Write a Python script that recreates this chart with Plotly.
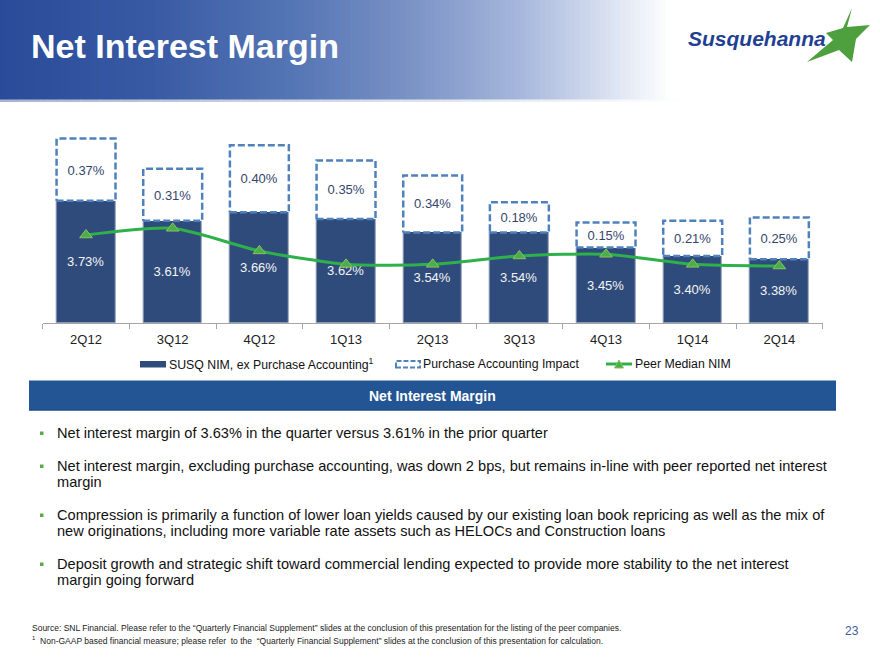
import plotly.graph_objects as go

# ---------------- data ----------------
quarters = ["2Q12", "3Q12", "4Q12", "1Q13", "2Q13", "3Q13", "4Q13", "1Q14", "2Q14"]
susq_nim = [3.73, 3.61, 3.66, 3.62, 3.54, 3.54, 3.45, 3.40, 3.38]
purchase_acct = [0.37, 0.31, 0.40, 0.35, 0.34, 0.18, 0.15, 0.21, 0.25]
peer_median = [3.525, 3.565, 3.43, 3.35, 3.35, 3.40, 3.41, 3.35, 3.34]

legend_labels = ["SUSQ NIM, ex Purchase Accounting<sup>1</sup>", "Purchase Accounting Impact", "Peer Median NIM"]
bullets = [
    ["Net interest margin of 3.63% in the quarter versus 3.61% in the prior quarter"],
    ["Net interest margin, excluding purchase accounting, was down 2 bps, but remains in-line with peer reported net interest",
     "margin"],
    ["Compression is primarily a function of lower loan yields caused by our existing loan book repricing as well as the mix of",
     "new originations, including more variable rate assets such as HELOCs and Construction loans"],
    ["Deposit growth and strategic shift toward commercial lending expected to provide more stability to the net interest",
     "margin going forward"],
]
footnotes = [
    "Source: SNL Financial. Please refer to the \u201cQuarterly Financial Supplement\u201d slides at the conclusion of this presentation for the listing of the peer companies.",
    "<sup>1</sup>  Non-GAAP based financial measure; please refer  to the  \u201cQuarterly Financial Supplement\u201d slides at the conclusion of this presentation for calculation.",
]

W, H = 880, 660
FONT = "Liberation Sans, Arial, sans-serif"
NAVY = "#2f4b7b"
DASH_BLUE = "#4f81bd"
GREEN = "#2eb04b"

AXIS_MIN = 3.0
AXIS_MAX = 4.211
BAR_W = 0.68
xs = list(range(len(quarters)))


def px(x):
    return x / W


def py(y):
    return 1 - y / H


fig = go.Figure()

# dark bars (SUSQ NIM ex PA)
fig.add_trace(go.Bar(
    x=xs, y=[v - AXIS_MIN for v in susq_nim], base=AXIS_MIN, width=BAR_W,
    customdata=susq_nim, texttemplate="%{customdata:.2f}%",
    textposition="inside", insidetextanchor="middle", textangle=0,
    insidetextfont=dict(color="#f4f4f4", size=13, family=FONT),
    marker=dict(color=NAVY, line=dict(color="#8a9ab3", width=1)),
    showlegend=False, hoverinfo="skip",
))
# purchase accounting boxes (white fill)
fig.add_trace(go.Bar(
    x=xs, y=purchase_acct, base=susq_nim, width=BAR_W,
    texttemplate="%{y:.2f}%",
    textposition="inside", insidetextanchor="middle", textangle=0,
    insidetextfont=dict(color="#34466c", size=13, family=FONT),
    marker=dict(color="white", line=dict(width=0)),
    showlegend=False, hoverinfo="skip",
))
# dashed outlines
ox, oy = [], []
for i, s, p in zip(xs, susq_nim, purchase_acct):
    l, r = i - BAR_W / 2, i + BAR_W / 2
    ox += [l, r, r, l, l, None]
    oy += [s, s, s + p, s + p, s, None]
fig.add_trace(go.Scatter(
    x=ox, y=oy, mode="lines",
    line=dict(color=DASH_BLUE, width=2.5, dash="7px,3px"),
    showlegend=False, hoverinfo="skip",
))
# peer median line
fig.add_trace(go.Scatter(
    x=xs, y=peer_median, mode="lines+markers",
    line=dict(color=GREEN, width=3, shape="spline", smoothing=0.7),
    marker=dict(symbol="triangle-up", size=11, color="#4aae4a", line=dict(color="#8cc060", width=1)),
    showlegend=False, hoverinfo="skip",
))

fig.update_layout(
    width=W, height=H, autosize=False,
    margin=dict(l=0, r=0, t=0, b=0),
    paper_bgcolor="white", plot_bgcolor="rgba(0,0,0,0)",
    barmode="overlay", bargap=0,
    font=dict(family=FONT, color="#222222"),
    xaxis=dict(
        domain=[px(42.7), px(822.7)], range=[-0.5, len(quarters) - 0.5],
        tickmode="array", tickvals=xs, ticktext=quarters, ticks="",
        tickfont=dict(size=13, color="#222222", family=FONT),
        showline=True, linecolor="#a6a6a6", linewidth=1,
        showgrid=False, zeroline=False, fixedrange=True,
        minor=dict(tickmode="linear", tick0=-0.5, dtick=1, ticks="outside",
                   ticklen=5, tickcolor="#a6a6a6", tickwidth=1, showgrid=False),
        ticklabelstandoff=4,
    ),
    yaxis=dict(
        domain=[py(323), py(120)], range=[AXIS_MIN, AXIS_MAX],
        visible=False, fixedrange=True,
    ),
)

shapes = []
annotations = []

# header gradient banner
stops = [(0, (42, 75, 153)), (150, (56, 90, 164)), (300, (86, 118, 181)), (420, (126, 149, 199)),
         (520, (166, 183, 219)), (600, (212, 221, 239)), (670, (255, 255, 255))]


def col_at(x):
    for (x0, c0), (x1, c1) in zip(stops, stops[1:]):
        if x0 <= x <= x1:
            t = (x - x0) / (x1 - x0)
            return "rgb(%d,%d,%d)" % tuple(round(a + (b - a) * t) for a, b in zip(c0, c1))
    return "rgb(255,255,255)"


step = 5
for x0 in range(0, 680, step):
    shapes.append(dict(type="rect", xref="paper", yref="paper", x0=px(x0), x1=px(x0 + step + 0.5),
                       y0=py(100), y1=py(0), line=dict(width=0), fillcolor=col_at(x0 + step / 2), layer="below"))
# thin line under the banner
for x0 in range(0, 680, 20):
    t = x0 / 680
    c = tuple(round(a + (255 - a) * t) for a in (170, 182, 208))
    shapes.append(dict(type="rect", xref="paper", yref="paper", x0=px(x0), x1=px(x0 + 20.5),
                       y0=py(102), y1=py(99.5), line=dict(width=0),
                       fillcolor="rgb(%d,%d,%d)" % c, layer="below"))

annotations.append(dict(text="<b>Net Interest Margin</b>", x=px(29), y=py(46), xref="paper", yref="paper",
                        xanchor="left", yanchor="middle", showarrow=False,
                        font=dict(size=34, color="white", family=FONT)))
# logo
annotations.append(dict(text="<b><i>Susquehanna</i></b>", x=px(686), y=py(38), xref="paper", yref="paper",
                        xanchor="left", yanchor="middle", showarrow=False,
                        font=dict(size=21, color="#1f3f93", family=FONT)))
star = [(852, 8), (847, 27), (870, 25), (856, 39), (852, 62), (839, 50), (807, 62), (833, 40), (826, 33), (843, 28)]
path = "M " + " L ".join("%f,%f" % (px(x), py(y)) for x, y in star) + " Z"
shapes.append(dict(type="path", xref="paper", yref="paper", path=path, fillcolor="#4e9f3d",
                   line=dict(width=0)))

# custom legend
LEG_Y = 364
shapes.append(dict(type="rect", xref="paper", yref="paper", x0=px(140), x1=px(166), y0=py(367.5), y1=py(361),
                   fillcolor=NAVY, line=dict(width=0)))
shapes.append(dict(type="rect", xref="paper", yref="paper", x0=px(396), x1=px(420), y0=py(367.5), y1=py(361),
                   fillcolor="white", line=dict(color=DASH_BLUE, width=2, dash="5px,2px")))
shapes.append(dict(type="line", xref="paper", yref="paper", x0=px(606), x1=px(632), y0=py(LEG_Y), y1=py(LEG_Y),
                   line=dict(color=GREEN, width=3)))
tri = [(614.5, 368), (623.5, 368), (619, 360)]
shapes.append(dict(type="path", xref="paper", yref="paper",
                   path="M " + " L ".join("%f,%f" % (px(x), py(y)) for x, y in tri) + " Z",
                   fillcolor="#4aae4a", line=dict(color="#8cc060", width=1)))
for lx, lab in zip([166.5, 421, 633], legend_labels):
    annotations.append(dict(text=lab, x=px(lx), y=py(LEG_Y), xref="paper", yref="paper",
                            xanchor="left", yanchor="middle", showarrow=False,
                            font=dict(size=12.3, color="#111111", family=FONT)))

# section bar
shapes.append(dict(type="rect", xref="paper", yref="paper", x0=px(29), x1=px(836), y0=py(410.5), y1=py(380.5),
                   fillcolor="#235594", line=dict(width=0)))
shapes.append(dict(type="line", xref="paper", yref="paper", x0=px(29), x1=px(836), y0=py(410), y1=py(410),
                   line=dict(color="#1b4680", width=1)))
annotations.append(dict(text="<b>Net Interest Margin</b>", x=px(432.5), y=py(395.5), xref="paper", yref="paper",
                        xanchor="center", yanchor="middle", showarrow=False,
                        font=dict(size=14, color="white", family=FONT)))

# bullets
bullet_y = [433, 466, 515, 564]
for by, lines in zip(bullet_y, bullets):
    shapes.append(dict(type="rect", xref="paper", yref="paper", x0=px(40), x1=px(43.5), y0=py(by + 2), y1=py(by - 1.5),
                       fillcolor="#5aaa4a", line=dict(width=0)))
    for k, t in enumerate(lines):
        annotations.append(dict(text=t, x=px(54.5), y=py(by + 16.3 * k), xref="paper", yref="paper",
                                xanchor="left", yanchor="middle", showarrow=False,
                                font=dict(size=14.6, color="#111111", family=FONT)))

# footnotes
for fy, t in zip([628, 640], footnotes):
    annotations.append(dict(text=t, x=px(30), y=py(fy), xref="paper", yref="paper",
                            xanchor="left", yanchor="middle", showarrow=False,
                            font=dict(size=8.5, color="#222222", family=FONT)))
annotations.append(dict(text="23", x=px(852), y=py(631), xref="paper", yref="paper",
                        xanchor="center", yanchor="middle", showarrow=False,
                        font=dict(size=12, color="#3a5da0", family=FONT)))

fig.update_layout(shapes=shapes, annotations=annotations)
fig.write_html("out.html")
